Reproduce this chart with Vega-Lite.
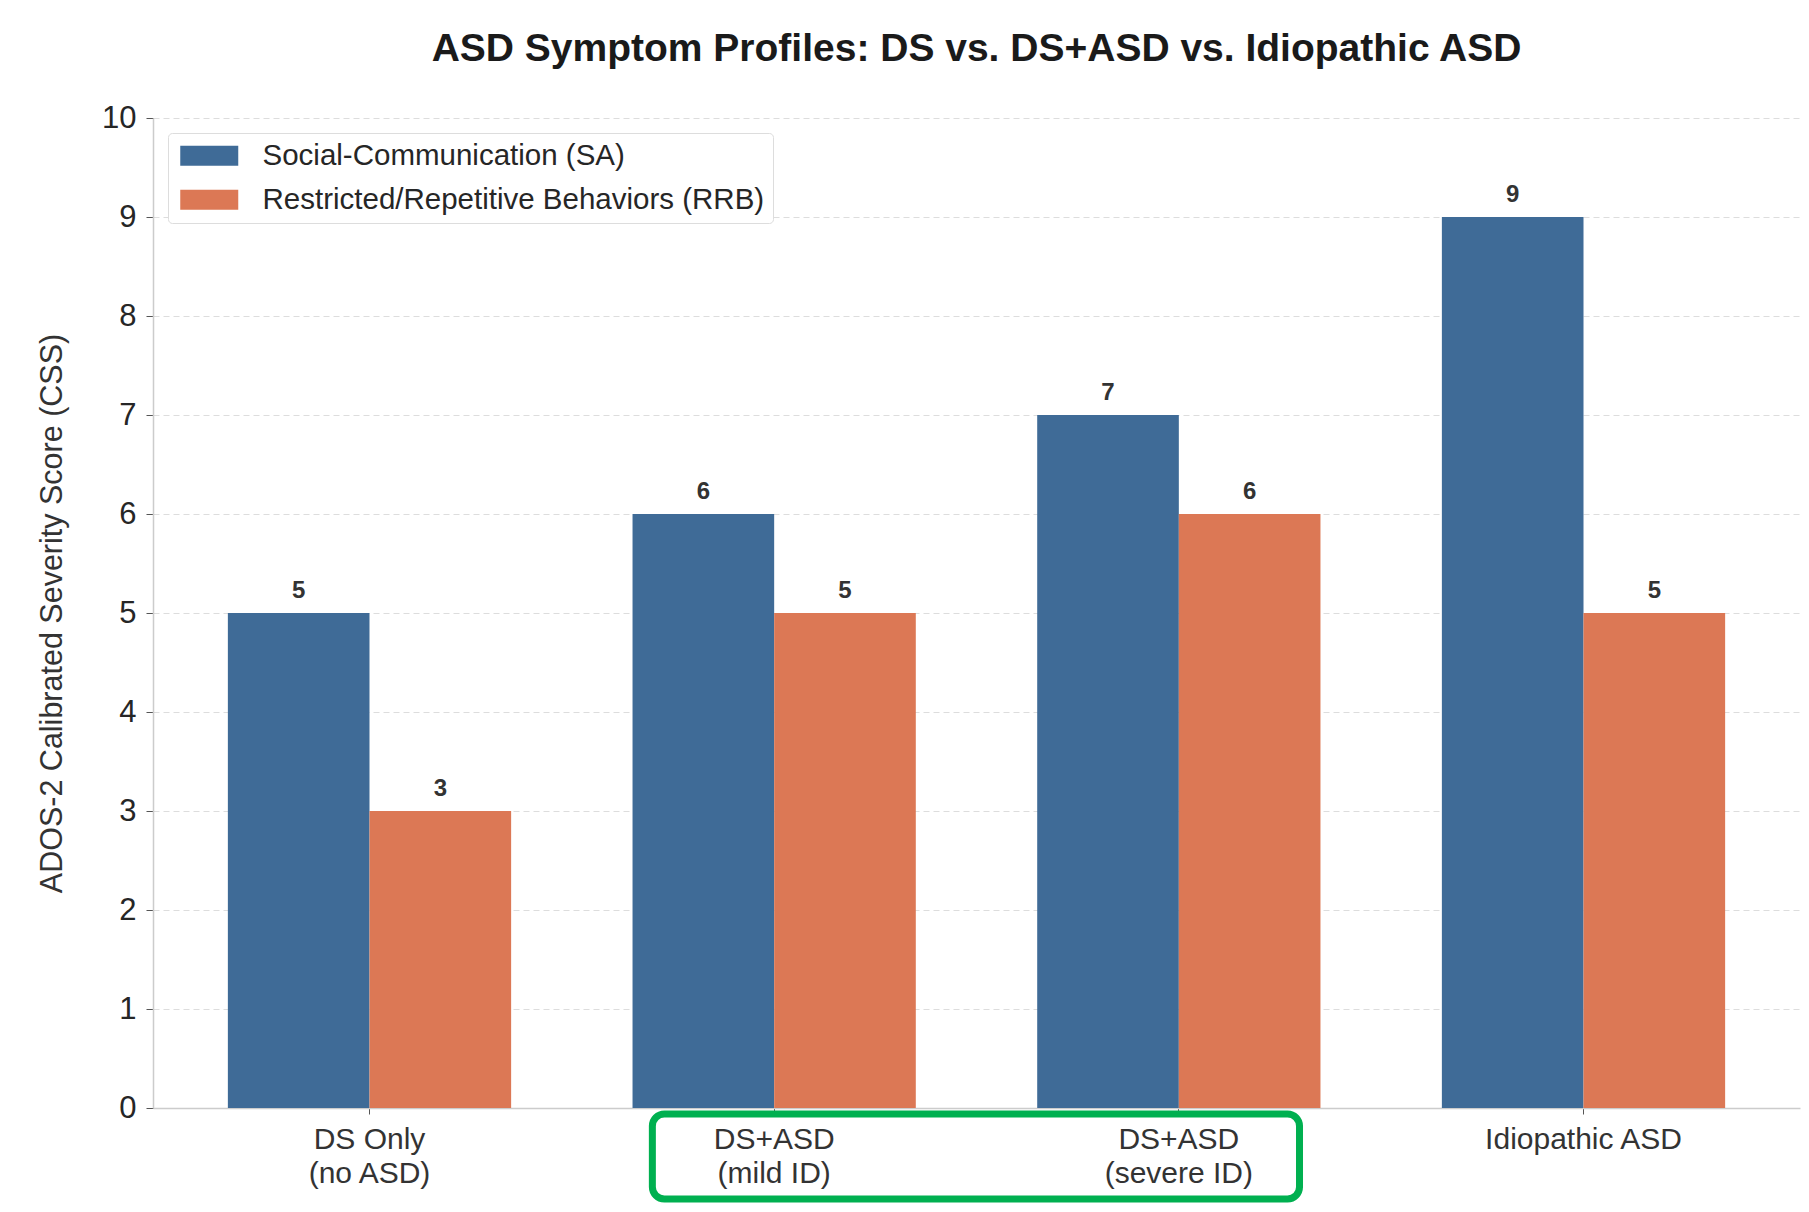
{
  "$schema": "https://vega.github.io/schema/vega-lite/v6.json",
  "autosize": {"type": "none"},
  "width": 1647,
  "height": 990,
  "padding": {"left": 153, "top": 118, "right": 9, "bottom": 104},
  "background": "white",
  "title": {
    "text": "ASD Symptom Profiles: DS vs. DS+ASD vs. Idiopathic ASD",
    "fontSize": 39,
    "fontWeight": "bold",
    "color": "#1a1a1a",
    "anchor": "middle",
    "offset": 33
  },
  "config": {
    "font": "Liberation Sans",
    "view": {"stroke": null},
    "axis": {"domainColor": "#cccccc", "domainWidth": 1.5, "tickColor": "#555555", "labelColor": "#262626"}
  },
  "datasets": {
    "bars": [
      {"group": "DS Only\n(no ASD)", "measure": "Social-Communication (SA)", "score": 5},
      {"group": "DS Only\n(no ASD)", "measure": "Restricted/Repetitive Behaviors (RRB)", "score": 3},
      {"group": "DS+ASD\n(mild ID)", "measure": "Social-Communication (SA)", "score": 6},
      {"group": "DS+ASD\n(mild ID)", "measure": "Restricted/Repetitive Behaviors (RRB)", "score": 5},
      {"group": "DS+ASD\n(severe ID)", "measure": "Social-Communication (SA)", "score": 7},
      {"group": "DS+ASD\n(severe ID)", "measure": "Restricted/Repetitive Behaviors (RRB)", "score": 6},
      {"group": "Idiopathic ASD", "measure": "Social-Communication (SA)", "score": 9},
      {"group": "Idiopathic ASD", "measure": "Restricted/Repetitive Behaviors (RRB)", "score": 5}
    ],
    "box": [
      {"from": "DS+ASD\n(mild ID)", "to": "DS+ASD\n(severe ID)", "lo": -0.06, "hi": -0.92}
    ]
  },
  "encoding": {
    "x": {
      "field": "group", "type": "nominal",
      "sort": ["DS Only\n(no ASD)", "DS+ASD\n(mild ID)", "DS+ASD\n(severe ID)", "Idiopathic ASD"],
      "scale": {"paddingInner": 0.3, "paddingOuter": 0.185},
      "axis": {"title": null, "labelAngle": 0, "tickSize": 6, "labelPadding": 10, "labelFontSize": 30, "labelLineHeight": 34, "labelLimit": 1000, "labelExpr": "split(datum.label, '\\n')", "labelColor": "#333333"}
    }
  },
  "layer": [
    {
      "data": {"name": "bars"},
      "mark": {"type": "bar"},
      "encoding": {
        "xOffset": {"field": "measure", "type": "nominal", "sort": ["Social-Communication (SA)", "Restricted/Repetitive Behaviors (RRB)"], "scale": {"paddingInner": 0, "paddingOuter": 0}},
        "y": {
          "field": "score", "type": "quantitative",
          "scale": {"domain": [0, 10], "nice": false},
          "axis": {
            "title": "ADOS-2 Calibrated Severity Score (CSS)",
            "titleFontSize": 30.5, "titleFontWeight": "normal", "titleColor": "#333333",
            "titleX": -101, "titleY": 495, "titleAngle": -90, "titleAlign": "center", "titleBaseline": "middle",
            "values": [0, 1, 2, 3, 4, 5, 6, 7, 8, 9, 10], "format": "d",
            "labelFontSize": 31,
            "tickSize": 7, "labelPadding": 10,
            "grid": true, "gridDash": [6, 4], "gridColor": "#dddddd", "gridWidth": 1.2
          }
        },
        "color": {
          "field": "measure", "type": "nominal",
          "sort": ["Social-Communication (SA)", "Restricted/Repetitive Behaviors (RRB)"],
          "scale": {"domain": ["Social-Communication (SA)", "Restricted/Repetitive Behaviors (RRB)"], "range": ["#3f6b97", "#dc7855"]},
          "legend": {
            "title": null, "orient": "top-left", "offset": 15,
            "fillColor": "white", "strokeColor": "#dddddd", "cornerRadius": 4, "padding": 8,
            "labelFontSize": 29.5, "labelColor": "#262626", "labelLimit": 1000,
            "symbolType": "M-1.05,-1H4.75V1H-1.05Z", "symbolSize": 400, "symbolStrokeWidth": 0,
            "labelOffset": 57, "rowPadding": 13
          }
        }
      }
    },
    {
      "data": {"name": "bars"},
      "mark": {"type": "text", "fontSize": 24, "fontWeight": "bold", "color": "#333333", "baseline": "alphabetic", "dy": -15},
      "encoding": {
        "xOffset": {"field": "measure", "type": "nominal", "sort": ["Social-Communication (SA)", "Restricted/Repetitive Behaviors (RRB)"]},
        "y": {"field": "score", "type": "quantitative"},
        "text": {"field": "score", "type": "quantitative"}
      }
    },
    {
      "data": {"name": "box"},
      "mark": {"type": "rect", "filled": false, "stroke": "#00b050", "strokeWidth": 7, "cornerRadius": 12, "clip": false},
      "encoding": {
        "x": {"field": "from", "type": "nominal", "bandPosition": 0.07},
        "x2": {"field": "to", "bandPosition": 0.926},
        "y": {"field": "lo", "type": "quantitative"},
        "y2": {"field": "hi"}
      }
    }
  ]
}
